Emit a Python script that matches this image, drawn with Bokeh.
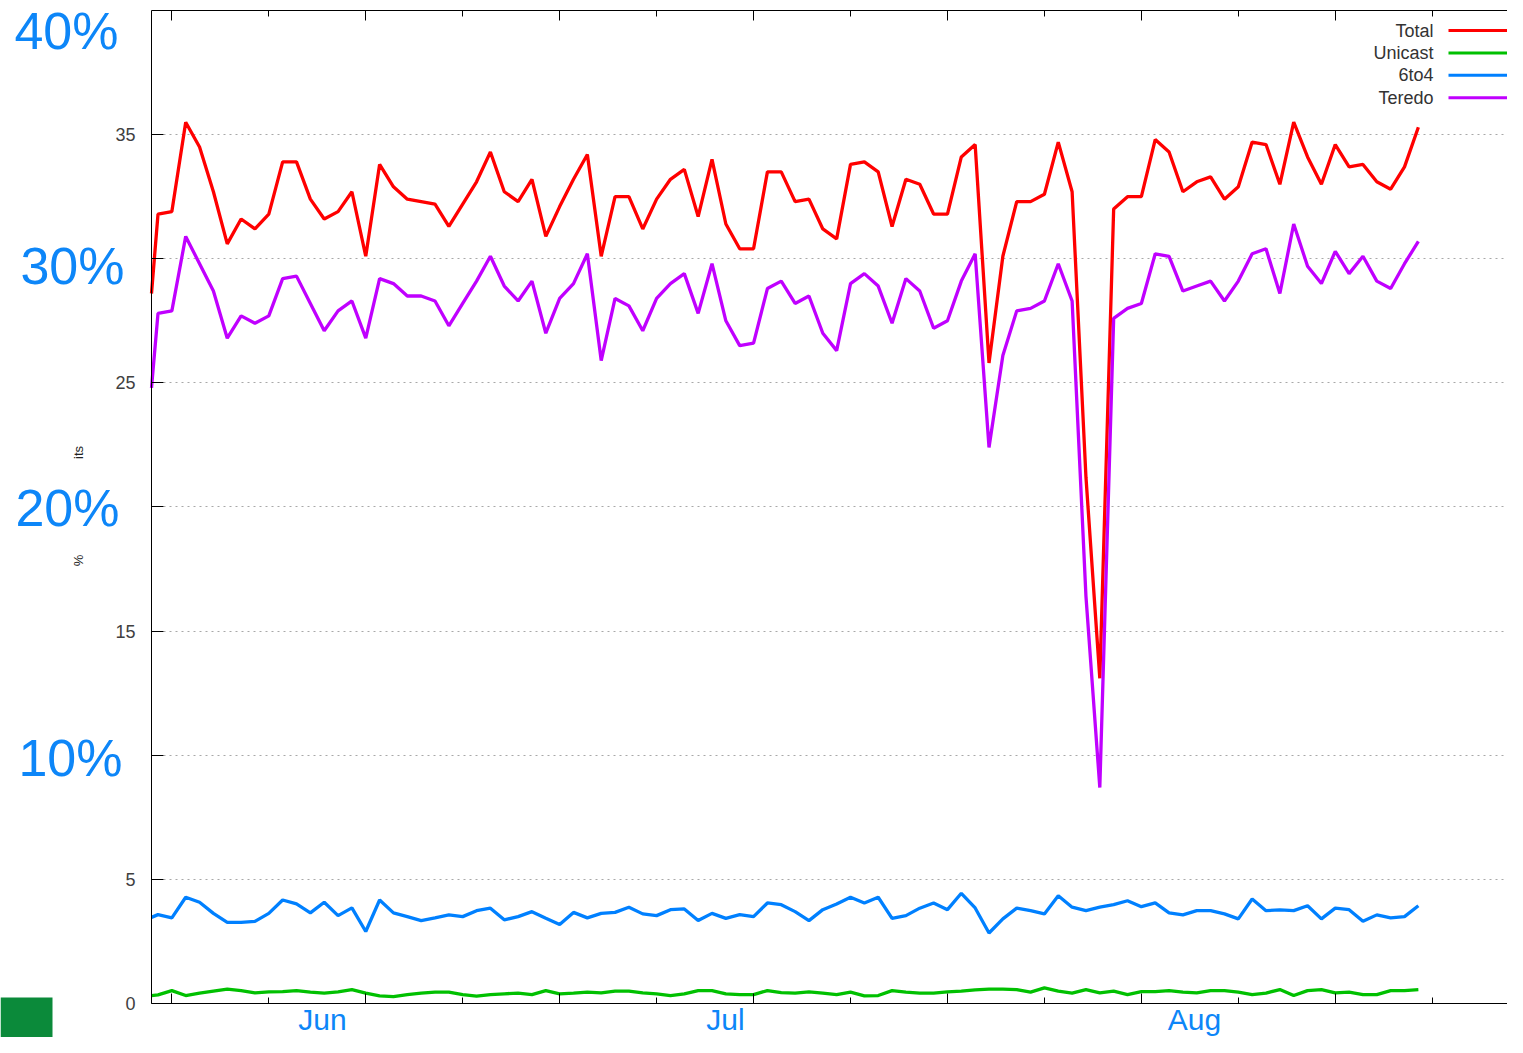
import math
from bokeh.plotting import figure
from bokeh.models import Range1d, LinearAxis, FixedTicker, Label, BoxAnnotation, Grid
from bokeh.embed import file_html
from bokeh.resources import INLINE

# ---------------- data (day index; first sample is a partial day at the left edge) ----------------
days = [-0.47] + list(range(0, 92))

total = [28.6,
         31.8, 31.9, 35.5, 34.5, 32.7, 30.6, 31.6, 31.2, 31.8, 33.9,
         33.9, 32.4, 31.6, 31.9, 32.7, 30.1, 33.8, 32.9, 32.4, 32.3,
         32.2, 31.3, 32.2, 33.1, 34.3, 32.7, 32.3, 33.2, 30.9, 32.1,
         33.2, 34.2, 30.1, 32.5, 32.5, 31.2, 32.4, 33.2, 33.6, 31.7,
         34.0, 31.4, 30.4, 30.4, 33.5, 33.5, 32.3, 32.4, 31.2, 30.8,
         33.8, 33.9, 33.5, 31.3, 33.2, 33.0, 31.8, 31.8, 34.1, 34.6,
         25.8, 30.1, 32.3, 32.3, 32.6, 34.7, 32.7, 21.2, 13.1, 32.0,
         32.5, 32.5, 34.8, 34.3, 32.7, 33.1, 33.3, 32.4, 32.9, 34.7,
         34.6, 33.0, 35.5, 34.1, 33.0, 34.6, 33.7, 33.8, 33.1, 32.8,
         33.7, 35.3]

unicast = [0.32,
           0.35, 0.52, 0.32, 0.42, 0.50, 0.58, 0.52, 0.43, 0.47, 0.48,
           0.52, 0.46, 0.42, 0.47, 0.56, 0.42, 0.31, 0.28, 0.36, 0.42,
           0.46, 0.46, 0.36, 0.30, 0.36, 0.39, 0.42, 0.36, 0.52, 0.39,
           0.42, 0.46, 0.43, 0.50, 0.50, 0.43, 0.39, 0.32, 0.39, 0.52,
           0.52, 0.39, 0.36, 0.36, 0.52, 0.44, 0.42, 0.47, 0.42, 0.36,
           0.46, 0.31, 0.32, 0.52, 0.46, 0.42, 0.42, 0.47, 0.50, 0.55,
           0.58, 0.58, 0.56, 0.46, 0.63, 0.50, 0.42, 0.56, 0.43, 0.50,
           0.36, 0.48, 0.48, 0.52, 0.46, 0.43, 0.52, 0.52, 0.46, 0.36,
           0.42, 0.56, 0.32, 0.52, 0.56, 0.43, 0.46, 0.36, 0.36, 0.52,
           0.52, 0.56]

six_to_four = [3.47,
               3.58, 3.45, 4.28, 4.08, 3.63, 3.27, 3.27, 3.31, 3.63, 4.17,
               4.01, 3.65, 4.08, 3.54, 3.85, 2.90, 4.17, 3.65, 3.50, 3.34,
               3.45, 3.57, 3.50, 3.74, 3.84, 3.37, 3.50, 3.70, 3.43, 3.18,
               3.67, 3.45, 3.63, 3.67, 3.88, 3.61, 3.54, 3.78, 3.81, 3.34,
               3.63, 3.43, 3.58, 3.50, 4.05, 3.98, 3.70, 3.34, 3.78, 4.01,
               4.28, 4.05, 4.28, 3.43, 3.54, 3.84, 4.05, 3.78, 4.44, 3.85,
               2.84, 3.41, 3.84, 3.74, 3.61, 4.34, 3.88, 3.74, 3.88, 3.98,
               4.14, 3.90, 4.05, 3.65, 3.57, 3.74, 3.74, 3.61, 3.41, 4.21,
               3.74, 3.77, 3.74, 3.94, 3.41, 3.84, 3.78, 3.31, 3.57, 3.45,
               3.50, 3.94]

teredo = [24.8,
          27.8, 27.9, 30.9, 29.8, 28.7, 26.8, 27.7, 27.4, 27.7, 29.2,
          29.3, 28.2, 27.1, 27.9, 28.3, 26.8, 29.2, 29.0, 28.5, 28.5,
          28.3, 27.3, 28.2, 29.1, 30.1, 28.9, 28.3, 29.1, 27.0, 28.4,
          29.0, 30.2, 25.9, 28.4, 28.1, 27.1, 28.4, 29.0, 29.4, 27.8,
          29.8, 27.5, 26.5, 26.6, 28.8, 29.1, 28.2, 28.5, 27.0, 26.3,
          29.0, 29.4, 28.9, 27.4, 29.2, 28.7, 27.2, 27.5, 29.1, 30.2,
          22.4, 26.1, 27.9, 28.0, 28.3, 29.8, 28.3, 16.4, 8.7, 27.6,
          28.0, 28.2, 30.2, 30.1, 28.7, 28.9, 29.1, 28.3, 29.1, 30.2,
          30.4, 28.6, 31.4, 29.7, 29.0, 30.3, 29.4, 30.1, 29.1, 28.8,
          29.8, 30.7]

series_names = ["Total", "Unicast", "6to4", "Teredo"]
series_values = [total, unicast, six_to_four, teredo]
series_colors = ["#ff0000", "#00c000", "#0080ff", "#c000ff"]

y_ticks = [0, 5, 10, 15, 20, 25, 30, 35]
y_hidden = [10, 20, 30]
grid_ticks = [5, 10, 15, 20, 25, 30, 35]
pct_labels = ["40%", "30%", "20%", "10%"]
month_labels = ["Jun", "Jul", "Aug"]
x_major_ticks = [1, 15, 29, 43, 57, 71, 85]
x_minor_ticks = [8, 22, 36, 50, 64, 78, 92]
ylabel_fragments = ["its", "%"]

FONT = "Liberation Sans"
BLUE = "#0d86f8"

# frame covers the whole canvas; the plotting box starts at x=-0.47 (day) and spans y 0..40
X_LEFT, X_RIGHT = -11.3725, 97.436
Y_BOTTOM, Y_TOP = -1.3696, 40.4028
W, H = 1507, 1037
PLOT_LEFT_PX = 151

p = figure(width=W, height=H, output_backend="svg", toolbar_location=None,
           x_range=Range1d(X_LEFT, X_RIGHT), y_range=Range1d(Y_BOTTOM, Y_TOP),
           x_axis_location=None, y_axis_location=None,
           min_border=0, min_border_left=0, min_border_right=0,
           min_border_top=0, min_border_bottom=0,
           background_fill_color="white", border_fill_color="white")
p.outline_line_color = None
# drop the default grids; only a dotted horizontal grid is wanted
p.center = [r for r in p.center if not isinstance(r, Grid)]

grid = Grid(dimension=1, ticker=FixedTicker(ticks=grid_ticks), bounds=(0, 40),
            grid_line_color="#a8a8a8", grid_line_dash="2 4", grid_line_width=1)
if "cross_bounds" in grid.properties():
    grid.cross_bounds = (days[0], X_RIGHT)
    p.add_layout(grid)
else:
    p.add_layout(grid)
    # white mask hiding the grid to the left of the plotting box
    p.add_layout(BoxAnnotation(left=0, right=PLOT_LEFT_PX - 0.5, top=H, bottom=0,
                               left_units="screen", right_units="screen",
                               top_units="screen", bottom_units="screen",
                               fill_color="white", fill_alpha=1.0, line_color=None,
                               level="underlay"))

# left axis with inward ticks
ya = LinearAxis(fixed_location=days[0], bounds=(0, 40), ticker=FixedTicker(ticks=y_ticks))
ya.major_label_overrides = {v: "" for v in y_hidden}
ya.major_tick_in = 12
ya.major_tick_out = 0
ya.minor_tick_line_color = None
ya.major_label_standoff = 16
ya.major_label_text_font = FONT
ya.major_label_text_font_size = "18px"
ya.major_label_text_color = "#404040"
ya.axis_line_color = "black"
p.add_layout(ya, "left")

# bottom and top axes, tick marks only
for loc, side in [(0, "below"), (40, "above")]:
    ax = LinearAxis(fixed_location=loc, bounds=(days[0], X_RIGHT),
                    ticker=FixedTicker(ticks=x_major_ticks, minor_ticks=x_minor_ticks))
    ax.major_label_overrides = {t: "" for t in x_major_ticks}
    ax.major_label_standoff = 0
    ax.major_tick_in = 10
    ax.major_tick_out = 0
    ax.minor_tick_in = 6
    ax.minor_tick_out = 0
    ax.axis_line_color = "black"
    ax.major_tick_line_color = "black"
    ax.minor_tick_line_color = "black"
    p.add_layout(ax, side)

# data lines
for vals, col in zip(series_values, series_colors):
    p.line(days, vals, line_color=col, line_width=3.3)

# legend (text right-aligned, line sample to the right, gnuplot style)
for i, (name, col) in enumerate(zip(series_names, series_colors)):
    yc = (H - 30) - 22.4 * i
    p.add_layout(Label(x=1433, y=yc, x_units="screen", y_units="screen", text=name,
                       text_align="right", text_baseline="middle",
                       text_font=FONT, text_font_size="18px", text_color="#333333"))
    p.add_layout(BoxAnnotation(left=1448, right=1508, top=yc + 1.5, bottom=yc - 1.5,
                               left_units="screen", right_units="screen",
                               top_units="screen", bottom_units="screen",
                               fill_color=col, fill_alpha=1.0, line_color=None))

# big blue percentage labels on the left (vertical centres of the glyphs)
for txt, xr, yc in zip(pct_labels, [118, 124, 119, 122], [30, 265, 507, 757]):
    p.add_layout(Label(x=xr, y=H - yc, x_units="screen", y_units="screen", text=txt,
                       text_align="right", text_baseline="middle",
                       text_font=FONT, text_font_size="52px", text_color=BLUE))

# month labels below the plot
for txt, xc in zip(month_labels, [322, 725, 1194]):
    p.add_layout(Label(x=xc, y=H - 1019, x_units="screen", y_units="screen", text=txt,
                       text_align="center", text_baseline="middle",
                       text_font=FONT, text_font_size="30px", text_color=BLUE))

# partially hidden rotated y-axis title fragments
for txt, yc in zip(ylabel_fragments, [452, 560]):
    p.add_layout(Label(x=78, y=H - yc, x_units="screen", y_units="screen", text=txt,
                       angle=math.pi / 2, text_align="center", text_baseline="middle",
                       text_font=FONT, text_font_size="13px", text_color="#222222"))

# green corner logo
p.add_layout(BoxAnnotation(left=0, right=52, top=H - 997, bottom=0,
                           left_units="screen", right_units="screen",
                           top_units="screen", bottom_units="screen",
                           fill_color="#0b8a3a", fill_alpha=1.0, line_color=None))

open("out.html", "w").write(file_html(p, INLINE))
